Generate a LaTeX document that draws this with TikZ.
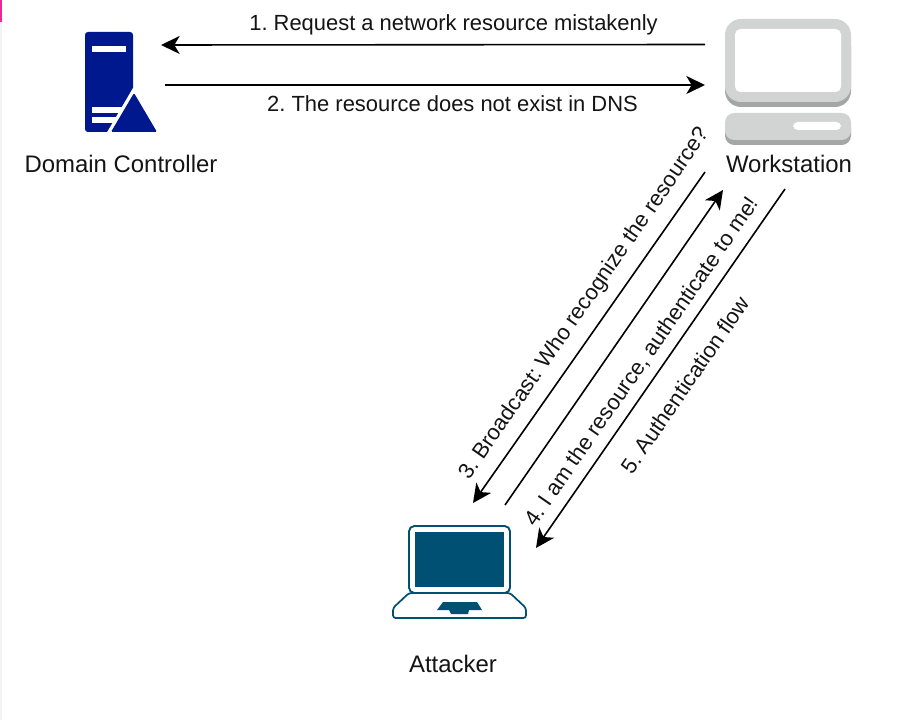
\documentclass[tikz,border=0pt]{standalone}
\usepackage{fontspec}
\setmainfont{Liberation Sans}
\usetikzlibrary{arrows.meta}
\definecolor{dcblue}{HTML}{00188D}
\definecolor{wsl}{HTML}{D2D3D3}
\definecolor{wsd}{HTML}{A5A6A6}
\definecolor{lap}{HTML}{005073}
\tikzset{
  x=0.75pt,y=-0.75pt,
  flow/.style={line width=1.2pt,-{Stealth[length=14pt,width=13.5pt,inset=4pt]},black},
  lbl/.style={font=\fontsize{16.45pt}{19pt}\selectfont,text=black!92,inner sep=0pt},
  cap lbl/.style={lbl,font=\fontsize{17.95pt}{21pt}\selectfont}
}
\frenchspacing
\begin{document}
\begin{tikzpicture}
\useasboundingbox (0,0) rectangle (906,720);
\fill[white] (0,0) rectangle (906,720);
\fill[black!5] (0,0) rectangle (2,720);
\fill[magenta!80!pink] (0,0) rectangle (2,22);
% domain controller
\fill[dcblue,rounded corners=2.2pt] (85,32) -- (133,32) -- (133,132) -- (85,132) -- cycle;
\fill[white] (92,46) rectangle (126,52);
\fill[white] (92,107) rectangle (122,113);
\fill[white] (92,117) rectangle (116,123);
\fill[white] (106,134) -- (133,88) -- (138,88) -- (138,134) -- cycle;
\fill[dcblue,rounded corners=1pt] (134,93) -- (157,132) -- (111,132) -- cycle;
% workstation
\fill[wsd,rounded corners=12pt] (725,30) rectangle (851,107);
\fill[wsl,rounded corners=12pt] (725,19) rectangle (851,102);
\fill[white,rounded corners=4pt] (735,29) rectangle (841,92);
\fill[wsd,rounded corners=7pt] (725,118) rectangle (851,145);
\fill[wsl,rounded corners=7pt] (725,113) rectangle (851,140);
\fill[white,rounded corners=3.5pt] (793,122) rectangle (841,130);
% laptop
\draw[lap,line width=1.3pt,fill=white,rounded corners=2pt] (409,593) -- (393,608) -- (393,618) -- (526,618) -- (526,608) -- (510,593) -- cycle;
\draw[lap,line width=1.4pt,fill=white,rounded corners=4pt] (409,526) rectangle (510,593);
\fill[lap] (415,532) rectangle (504,587);
\fill[lap] (443,602) -- (477,602) -- (482,610) -- (469,610) -- (468,614) -- (451,614) -- (449,610) -- (437,610) -- cycle;
% anchors
\coordinate (dcin) at (161,45);
\coordinate (dcout) at (165,85);
\coordinate (wsout) at (705,44.5);
\coordinate (wsin) at (705,85);
\coordinate (ws3) at (705,172);
\coordinate (at3) at (473,503);
\coordinate (at4) at (505,505);
\coordinate (ws4) at (723,190);
\coordinate (ws5) at (785,189);
\coordinate (at5) at (536,548);
\draw[flow] (wsout) -- (dcin);
\draw[flow] (dcout) -- (wsin);
\draw[flow] (ws3) -- (at3);
\draw[flow] (at4) -- (ws4);
\draw[flow] (ws5) -- (at5);
% labels
\node[lbl] (t1) at (453.5,25) {1. Request a network resource mistakenly};
\node[lbl] (t2) at (452.5,104) {2. The resource does not exist in DNS};
\node[lbl,rotate=55.3] (t3) at (585,304) {3. Broadcast: Who recognize the resource?};
\node[lbl,rotate=55.3] (t4) at (642,362) {4. I am the resource, authenticate to me!};
\node[lbl,rotate=55.3] (t5) at (685,385) {5. Authentication flow};
\node[cap lbl] (dc) at (121,164) {Domain Controller};
\node[cap lbl] (ws) at (789,164) {Workstation};
\node[cap lbl] (at) at (453,664) {Attacker};
\end{tikzpicture}
\end{document}
